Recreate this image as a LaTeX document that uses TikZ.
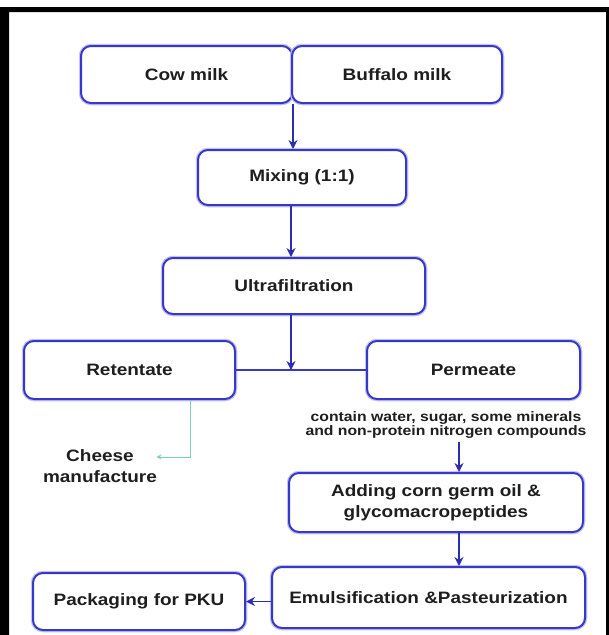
\documentclass[tikz,border=0pt]{standalone}
\usepackage{fontspec}
\setmainfont{Liberation Sans}[FakeStretch=1.15]
\usetikzlibrary{arrows.meta}
\definecolor{boxblue}{RGB}{55,55,200}
\definecolor{lineblue}{RGB}{45,45,175}
\definecolor{cheesegreen}{RGB}{125,210,190}
\definecolor{txt}{RGB}{30,30,30}
\tikzset{
  stepbox/.style={draw=boxblue,line width=2pt,rounded corners=10pt,fill=white,
    align=center,text=txt,inner sep=0pt,font=\fontsize{16.5}{21}\selectfont\bfseries,
    preaction={draw=boxblue!30,line width=4.5pt}},
  flow/.style={draw=lineblue,line width=1.8pt,-{Stealth[length=9pt,width=9pt,inset=3pt]}}
}
\begin{document}
\begin{tikzpicture}[x=1pt,y=-1pt]
\useasboundingbox (0,0) rectangle (609,635);
\fill[white] (0,0) rectangle (609,635);
\fill[black] (0,7) rectangle (606,12) (0,7) rectangle (9,635) (606,7) rectangle (609,635);
% boxes
\node[stepbox,minimum width=211pt,minimum height=57pt] (cow) at (186.5,74.5) {Cow milk};
\node[stepbox,minimum width=210pt,minimum height=57pt] (buffalo) at (397,74.5) {Buffalo milk};
\node[stepbox,minimum width=208pt,minimum height=55pt] (mix) at (302,177.5) {Mixing (1:1)};
\node[stepbox,minimum width=262pt,minimum height=56pt] (ultra) at (294,286) {Ultrafiltration};
\node[stepbox,minimum width=211pt,minimum height=58pt] (ret) at (129.5,370) {Retentate};
\node[stepbox,minimum width=213pt,minimum height=58pt] (perm) at (473.5,370) {Permeate};
\node[stepbox,minimum width=294pt,minimum height=59pt] (add) at (436,502.5) {Adding corn germ oil \&\\glycomacropeptides};
\node[stepbox,minimum width=313pt,minimum height=61pt] (emul) at (428.5,597.5) {Emulsification \&Pasteurization};
\node[stepbox,minimum width=212pt,minimum height=57pt] (pack) at (139,601.5) {Packaging for PKU};
% free texts
\node[font=\fontsize{16.5}{21}\selectfont\bfseries,text=txt,align=center] (cheese) at (100,466) {Cheese\\manufacture};
\node[font=\fontsize{13.7}{12.5}\selectfont\bfseries,text=txt,align=center] (note) at (446,425) {contain water, sugar, some minerals\\and non-protein nitrogen compounds};
\coordinate (mid) at (291,370);
\coordinate (drop) at (459,0);
\coordinate (tap) at (190,457);
% connectors
\draw[flow] (cow.south east) -- (cow.south east |- mix.north);
\draw[flow] (mix.south -| mid) -- (ultra.north -| mid);
\draw[draw=boxblue,line width=2pt] (ret) -- (perm);
\draw[flow] (ultra.south -| mid) -- (mid);
\draw[cheesegreen,line width=1pt,-{Stealth[length=5pt,width=5pt]}] (ret.south -| tap) -- (tap) -- ([xshift=-4pt,yshift=9pt]cheese.east);
\draw[flow] (note.south -| drop) -- (add.north -| drop);
\draw[flow] (add.south -| drop) -- (emul.north -| drop);
\draw[flow] (emul.west |- pack.east) -- (pack.east);
\end{tikzpicture}
\end{document}
